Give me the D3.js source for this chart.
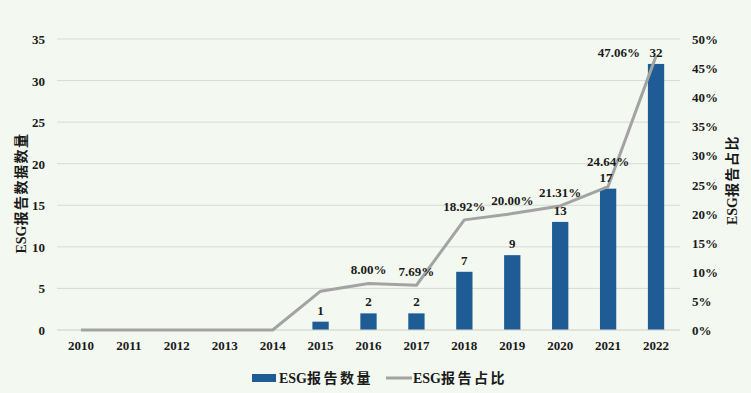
<!DOCTYPE html>
<html>
<head>
<meta charset="utf-8">
<script src="https://cdn.jsdelivr.net/npm/d3@7"></script>
<style>
  body { margin: 0; background: #f3f8f0; }
  svg text { font-family: "Liberation Serif", "Times New Roman", "Noto Sans CJK SC", serif; font-weight: bold; fill: #1a1a1a; }
</style>
</head>
<body>
<svg id="chart" width="751" height="393"></svg>
<script>
// data
const years = ["2010","2011","2012","2013","2014","2015","2016","2017","2018","2019","2020","2021","2022"];
const reportCounts = [0, 0, 0, 0, 0, 1, 2, 2, 7, 9, 13, 17, 32];
const reportShare = [0, 0, 0, 0, 0, 6.67, 8.00, 7.69, 18.92, 20.00, 21.31, 24.64, 47.06];
const shareLabels = [null, null, null, null, null, null, "8.00%", "7.69%", "18.92%", "20.00%", "21.31%", "24.64%", "47.06%"];
const leftTicks = [0, 5, 10, 15, 20, 25, 30, 35];
const rightTicks = [0, 5, 10, 15, 20, 25, 30, 35, 40, 45, 50];

let svg = d3.select("#chart"),
    width = +svg.attr("width"),
    height = +svg.attr("height");

const plot = { left: 57, right: 680, top: 39, bottom: 330 };
const BAR_COLOR = "#1f5b94",
      LINE_COLOR = "#a3a3a3",
      GRID_COLOR = "#d8dbd6";

let x = d3.scaleBand().domain(years).range([plot.left, plot.right]).paddingInner(0.66).paddingOuter(0.33);
let xc = (d) => x(d) + x.bandwidth() / 2;
let yLeft = d3.scaleLinear().domain([0, 35]).range([plot.bottom, plot.top]);
let yRight = d3.scaleLinear().domain([0, 50]).range([plot.bottom, plot.top]);

// gridlines
svg.append("g")
  .selectAll("line")
  .data(leftTicks)
  .enter().append("line")
  .attr("x1", plot.left).attr("x2", plot.right)
  .attr("y1", (d) => yLeft(d)).attr("y2", (d) => yLeft(d))
  .attr("stroke", GRID_COLOR).attr("stroke-width", 1);

// left axis
let leftAxis = svg.append("g")
  .attr("transform", "translate(" + (plot.left - 12) + ",0)")
  .call(d3.axisLeft(yLeft).tickValues(leftTicks).tickSize(0).tickPadding(0));
leftAxis.select(".domain").remove();
leftAxis.selectAll("text").style("font-size", "13px").attr("dy", "0.35em");

// right axis
let rightAxis = svg.append("g")
  .attr("transform", "translate(" + (plot.right + 12) + ",0)")
  .call(d3.axisRight(yRight).tickValues(rightTicks).tickSize(0).tickPadding(0).tickFormat((d) => d + "%"));
rightAxis.select(".domain").remove();
rightAxis.selectAll("text").style("font-size", "13px").attr("dy", "0.35em");

// x axis
let xAxis = svg.append("g")
  .attr("transform", "translate(0," + plot.bottom + ")")
  .call(d3.axisBottom(x).tickSize(0).tickPadding(11));
xAxis.select(".domain").remove();
xAxis.selectAll("text").style("font-size", "13px");

// bars
svg.append("g")
  .selectAll("rect")
  .data(years)
  .enter().append("rect")
  .attr("x", (d) => x(d))
  .attr("width", x.bandwidth())
  .attr("y", (d, i) => yLeft(reportCounts[i]))
  .attr("height", (d, i) => plot.bottom - yLeft(reportCounts[i]))
  .attr("fill", BAR_COLOR);

// baseline
svg.append("line")
  .attr("x1", plot.left).attr("x2", plot.right)
  .attr("y1", plot.bottom).attr("y2", plot.bottom)
  .attr("stroke", GRID_COLOR).attr("stroke-width", 1);

// share line
let line = d3.line()
  .x((d, i) => xc(years[i]))
  .y((d) => yRight(d));
svg.append("path")
  .datum(reportShare)
  .attr("d", line)
  .attr("fill", "none")
  .attr("stroke", LINE_COLOR)
  .attr("stroke-width", 3)
  .attr("stroke-linejoin", "round");

// bar labels
svg.append("g")
  .selectAll("text")
  .data(years.filter((d, i) => reportCounts[i] > 0))
  .enter().append("text")
  .attr("x", (d) => d === "2021" ? xc(d) - 2 : xc(d))
  .attr("y", (d) => yLeft(reportCounts[years.indexOf(d)]) - 7)
  .attr("text-anchor", "middle")
  .style("font-size", "13px")
  .text((d) => reportCounts[years.indexOf(d)]);

// share labels: above the point, except 2021 (over the bar label) and 2022 (left)
svg.append("g")
  .selectAll("text")
  .data(years.filter((d, i) => shareLabels[i]))
  .enter().append("text")
  .attr("x", (d) => d === "2022" ? xc(d) - 16 : xc(d))
  .attr("y", (d) => {
    let i = years.indexOf(d);
    if (d === "2022") return yRight(reportShare[i]) + 1;
    if (d === "2021") return yRight(reportShare[i]) - 21;
    return yRight(reportShare[i]) - 9;
  })
  .attr("text-anchor", (d) => d === "2022" ? "end" : "middle")
  .style("font-size", "13px")
  .text((d) => shareLabels[years.indexOf(d)]);

// axis titles
let leftTitle = svg.append("text")
  .attr("transform", "translate(26," + 193 + ") rotate(-90)")
  .attr("text-anchor", "middle")
  .style("font-size", "14px");
leftTitle.append("tspan").text("ESG");
leftTitle.append("tspan").style("letter-spacing", "1.5px").text("报告数据数量");

let rightTitle = svg.append("text")
  .attr("transform", "translate(737," + 180 + ") rotate(-90)")
  .attr("text-anchor", "middle")
  .style("font-size", "14px");
rightTitle.append("tspan").text("ESG");
rightTitle.append("tspan").style("letter-spacing", "1.5px").text("报告占比");

// legend
let legend = svg.append("g").attr("transform", "translate(252,378)");
legend.append("rect")
  .attr("x", 0).attr("y", -4).attr("width", 24).attr("height", 8)
  .attr("fill", BAR_COLOR);
let legendText1 = legend.append("text")
  .attr("x", 27).attr("y", 5)
  .style("font-size", "14px");
legendText1.append("tspan").text("ESG");
legendText1.append("tspan").style("letter-spacing", "2.5px").text("报告数量");
legend.append("line")
  .attr("x1", 134).attr("x2", 160).attr("y1", 0).attr("y2", 0)
  .attr("stroke", LINE_COLOR).attr("stroke-width", 3);
let legendText2 = legend.append("text")
  .attr("x", 161).attr("y", 5)
  .style("font-size", "14px");
legendText2.append("tspan").text("ESG");
legendText2.append("tspan").style("letter-spacing", "2.5px").text("报告占比");
</script>
</body>
</html>
